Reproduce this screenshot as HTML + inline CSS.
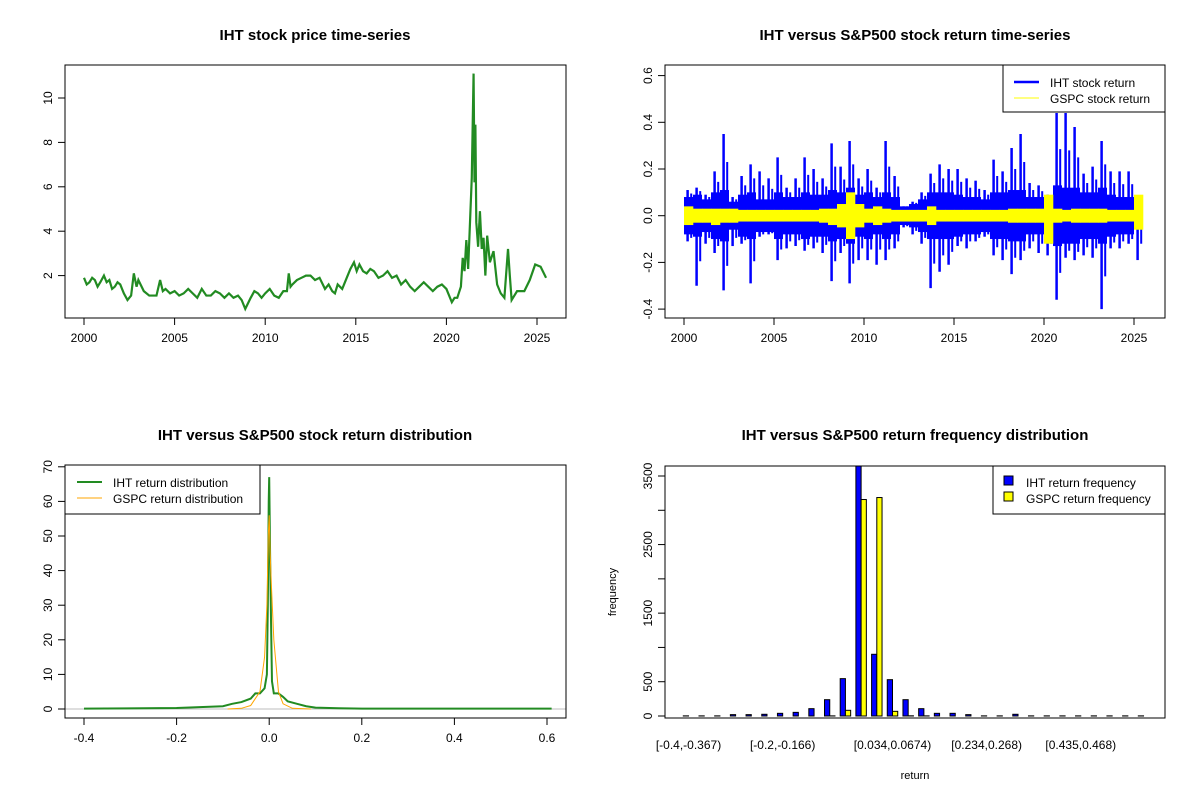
<!DOCTYPE html>
<html><head><meta charset="utf-8"><style>
body{margin:0;background:#fff}
svg{display:block;font-family:"Liberation Sans",Arial,sans-serif}
</style></head><body>
<svg id="c" width="1200" height="800" xmlns="http://www.w3.org/2000/svg"></svg>
<script>
// ---- Panel 1: price series ----
const priceYears=[2000.0,2000.15,2000.3,2000.45,2000.6,2000.75,2000.9,2001.1,2001.25,2001.4,2001.55,2001.7,2001.85,2002.0,2002.2,2002.4,2002.6,2002.75,2002.9,2003.0,2003.3,2003.6,2004.0,2004.2,2004.35,2004.5,2004.75,2005.0,2005.25,2005.5,2005.75,2006.0,2006.25,2006.5,2006.75,2007.0,2007.25,2007.5,2007.75,2008.0,2008.25,2008.5,2008.7,2008.9,2009.2,2009.4,2009.6,2009.8,2010.0,2010.25,2010.5,2010.75,2011.0,2011.2,2011.3,2011.4,2011.5,2011.75,2012.0,2012.25,2012.5,2012.75,2013.0,2013.3,2013.5,2013.7,2013.85,2014.0,2014.25,2014.5,2014.7,2014.9,2015.05,2015.2,2015.4,2015.6,2015.8,2016.0,2016.25,2016.5,2016.75,2017.0,2017.25,2017.5,2017.75,2018.0,2018.25,2018.5,2018.75,2019.0,2019.25,2019.5,2019.75,2020.0,2020.3,2020.45,2020.6,2020.8,2020.9,2021.0,2021.1,2021.2,2021.4,2021.5,2021.55,2021.6,2021.65,2021.75,2021.85,2021.95,2022.05,2022.15,2022.25,2022.4,2022.6,2022.8,2023.0,2023.2,2023.4,2023.5,2023.6,2023.9,2024.3,2024.6,2024.9,2025.2,2025.5];
const priceValues=[1.9,1.6,1.7,1.9,1.8,1.5,1.7,2.0,1.7,1.8,1.4,1.5,1.7,1.6,1.2,0.9,1.1,2.1,1.5,1.8,1.3,1.1,1.1,1.8,1.3,1.4,1.2,1.3,1.1,1.2,1.4,1.2,1.0,1.4,1.1,1.1,1.3,1.2,1.0,1.2,1.0,1.1,0.9,0.5,1.0,1.3,1.2,1.0,1.2,1.4,1.1,1.0,1.3,1.3,2.1,1.5,1.6,1.8,1.9,2.0,2.0,1.8,1.9,1.4,1.6,1.3,1.2,1.6,1.4,1.9,2.3,2.6,2.2,2.5,2.2,2.1,2.3,2.2,1.9,2.0,2.2,1.9,2.0,1.6,1.8,1.5,1.3,1.5,1.7,1.5,1.3,1.5,1.6,1.4,0.8,1.0,1.0,1.5,2.8,2.2,3.6,2.3,6.4,11.1,6.2,8.8,4.4,3.3,4.9,3.2,3.7,2.0,3.8,2.6,3.1,1.6,1.2,1.0,3.2,2.0,0.9,1.3,1.3,1.8,2.5,2.4,1.9];
const priceXTicks=[2000,2005,2010,2015,2020,2025];
const priceYTicks=[2,4,6,8,10];
// ---- Panel 2: returns (half-year buckets starting 2000.0) ----
const ihtHi=[0.11,0.12,0.09,0.19,0.35,0.08,0.17,0.22,0.19,0.16,0.25,0.12,0.16,0.25,0.2,0.16,0.31,0.21,0.32,0.16,0.2,0.12,0.32,0.17,0.04,0.06,0.1,0.18,0.22,0.2,0.2,0.16,0.15,0.11,0.24,0.19,0.29,0.35,0.14,0.13,0.09,0.44,0.44,0.38,0.18,0.21,0.32,0.19,0.19,0.19,0.06];
const ihtLo=[-0.11,-0.3,-0.12,-0.16,-0.32,-0.13,-0.12,-0.29,-0.09,-0.08,-0.19,-0.14,-0.13,-0.15,-0.14,-0.16,-0.28,-0.16,-0.29,-0.19,-0.19,-0.21,-0.19,-0.14,-0.05,-0.08,-0.12,-0.31,-0.24,-0.21,-0.13,-0.14,-0.11,-0.09,-0.17,-0.19,-0.25,-0.19,-0.14,-0.16,-0.17,-0.36,-0.18,-0.19,-0.17,-0.18,-0.4,-0.14,-0.14,-0.12,-0.19];
const ihtCore=[0.08,0.09,0.07,0.1,0.11,0.06,0.09,0.1,0.07,0.07,0.1,0.08,0.08,0.1,0.09,0.09,0.11,0.1,0.12,0.09,0.1,0.08,0.1,0.08,0.04,0.05,0.07,0.1,0.1,0.1,0.09,0.08,0.08,0.07,0.1,0.1,0.11,0.11,0.08,0.08,0.07,0.13,0.12,0.12,0.1,0.1,0.12,0.09,0.08,0.08,0.05];
const gspcHi=[0.04,0.03,0.03,0.03,0.03,0.03,0.025,0.025,0.025,0.025,0.025,0.025,0.025,0.025,0.025,0.03,0.03,0.05,0.1,0.05,0.03,0.04,0.03,0.025,0.025,0.025,0.025,0.04,0.025,0.025,0.025,0.025,0.025,0.025,0.025,0.025,0.03,0.03,0.03,0.03,0.09,0.03,0.025,0.03,0.03,0.03,0.03,0.025,0.025,0.025,0.09];
const gspcLo=[-0.04,-0.03,-0.03,-0.04,-0.03,-0.03,-0.025,-0.025,-0.025,-0.025,-0.025,-0.025,-0.025,-0.025,-0.025,-0.03,-0.04,-0.05,-0.1,-0.05,-0.03,-0.04,-0.03,-0.025,-0.025,-0.025,-0.025,-0.04,-0.025,-0.025,-0.025,-0.025,-0.025,-0.025,-0.025,-0.025,-0.03,-0.03,-0.03,-0.03,-0.12,-0.03,-0.025,-0.03,-0.03,-0.03,-0.03,-0.025,-0.025,-0.025,-0.06];
const retXTicks=[2000,2005,2010,2015,2020,2025];
const retYTicks=[-0.4,-0.2,0.0,0.2,0.4,0.6];
// ---- Panel 3: densities ----
const ihtDensX=[-0.4,-0.2,-0.1,-0.08,-0.06,-0.04,-0.03,-0.02,-0.01,-0.005,-0.003,-0.001,0,0.002,0.004,0.006,0.01,0.02,0.03,0.04,0.06,0.08,0.1,0.15,0.2,0.61];
const ihtDensY=[0.1,0.3,0.8,1.5,2,3,4.5,4.5,6,10,30,60,67,44,25,8,4.5,4.5,3.5,2.2,1.5,0.8,0.4,0.2,0.1,0.1];
const gspcDensX=[-0.09,-0.06,-0.04,-0.02,-0.01,-0.005,-0.002,0,0.002,0.005,0.01,0.02,0.03,0.05,0.09];
const gspcDensY=[0,0.2,1,5,15,30,50,56,45,35,20,5,1.5,0.2,0];
const densXTicks=[-0.4,-0.2,0.0,0.2,0.4,0.6];
const densYTicks=[0,10,20,30,40,50,60,70];
// ---- Panel 4: histogram (30 bins) ----
const binLabels=["[-0.4,-0.367)","[-0.2,-0.166)","[0.034,0.0674)","[0.234,0.268)","[0.435,0.468)"];
const binLabelIdx=[0,6,13,19,25];
const ihtFreq=[2,2,2,20,20,25,39,53,107,238,545,3700,900,530,238,107,39,39,20,2,2,25,2,2,2,2,2,2,2,2];
const gspcFreq=[0,0,0,0,0,0,0,0,0,2,83,3157,3186,68,3,2,0,0,0,0,0,0,0,0,0,0,0,0,0,0];
const freqYTicks=[0,500,1500,2500,3500];
const freqMinorTicks=[1000,2000,3000];

const NS="http://www.w3.org/2000/svg";
const svg=document.getElementById('c');
function mk(tag,attrs,parent){const e=document.createElementNS(NS,tag);for(const k in attrs)e.setAttribute(k,attrs[k]);(parent||svg).appendChild(e);return e;}
function txt(s,x,y,size,opts){const e=mk('text',Object.assign({x:x,y:y,'font-size':size,'text-anchor':'middle',fill:'#000'},opts||{}));e.textContent=s;return e;}
function fmt(v){return v.toFixed(1);}

// ===== Panel 1 =====
(function(){
 const L=65,R=566,T=65,B=318;
 const sx=v=>84+(v-2000)*(537-84)/25, sy=v=>320-v*22.2;
 let g=mk('g',{});
 let t=txt('IHT stock price time-series',315,40,15,{'font-weight':'bold'});
 let pts=priceYears.map((y,i)=>sx(y)+','+sy(priceValues[i])).join(' ');
 let pl=mk('polyline',{points:pts,fill:'none',stroke:'#228b22','stroke-width':2.2},g);
 let bx=mk('rect',{x:L,y:T,width:R-L,height:B-T,fill:'none',stroke:'#000'},g);
 mk('line',{x1:sx(2000),x2:sx(2025),y1:B,y2:B,stroke:'#000'},g);
 priceXTicks.forEach(v=>{mk('line',{x1:sx(v),x2:sx(v),y1:B,y2:B+7,stroke:'#000'},g);let e=txt(String(v),sx(v),B+24,12);});
 mk('line',{x1:L,x2:L,y1:sy(2),y2:sy(10),stroke:'#000'},g);
 priceYTicks.forEach(v=>{mk('line',{x1:L-7,x2:L,y1:sy(v),y2:sy(v),stroke:'#000'},g);let e=txt(String(v),0,0,12,{transform:`translate(${L-17},${sy(v)}) rotate(-90)`,dy:'4'});});
})();

// ===== Panel 2 =====
(function(){
 const L=665,R=1165,T=65,B=318;
 const sx=v=>684+(v-2000)*(1134-684)/25, sy=v=>215.7-v*233.5;
 let g=mk('g',{});
 let t=txt('IHT versus S&P500 stock return time-series',915,40,15,{'font-weight':'bold'});
 const w=sx(2000.5)-sx(2000);
 ihtHi.forEach((h,i)=>{
  const x0=sx(2000+i*0.5);
  let c=mk('rect',{x:x0,y:sy(ihtCore[i]),width:w,height:sy(-ihtCore[i])-sy(ihtCore[i]),fill:'#0000ff'},g);
  let s=mk('line',{x1:x0+w*0.4,x2:x0+w*0.4,y1:sy(h),y2:sy(ihtLo[i]),stroke:'#0000ff','stroke-width':2.5},g);
  let s2=mk('line',{x1:x0+w*0.8,x2:x0+w*0.8,y1:sy((h+ihtCore[i])/2),y2:sy((ihtLo[i]-ihtCore[i])/2),stroke:'#0000ff','stroke-width':2},g);
 });
 gspcHi.forEach((h,i)=>{
  const x0=sx(2000+i*0.5);
  let r=mk('rect',{x:x0,y:sy(h),width:w+0.3,height:sy(gspcLo[i])-sy(h),fill:'#ffff00'},g);
 });
 let bx=mk('rect',{x:L,y:T,width:R-L,height:B-T,fill:'none',stroke:'#000'},g);
 mk('line',{x1:sx(2000),x2:sx(2025),y1:B,y2:B,stroke:'#000'},g);
 retXTicks.forEach(v=>{mk('line',{x1:sx(v),x2:sx(v),y1:B,y2:B+7,stroke:'#000'},g);let e=txt(String(v),sx(v),B+24,12);});
 mk('line',{x1:L,x2:L,y1:sy(-0.4),y2:sy(0.6),stroke:'#000'},g);
 retYTicks.forEach(v=>{mk('line',{x1:L-7,x2:L,y1:sy(v),y2:sy(v),stroke:'#000'},g);let e=txt(fmt(v),0,0,12,{transform:`translate(${L-17},${sy(v)}) rotate(-90)`,dy:'4'});});
 let lg=mk('g',{},g);
 mk('rect',{x:1003,y:65,width:162,height:47,fill:'#fff',stroke:'#000'},lg);
 mk('line',{x1:1014,x2:1039,y1:82,y2:82,stroke:'#0000ff','stroke-width':2.5},lg);
 mk('line',{x1:1014,x2:1039,y1:98,y2:98,stroke:'#ffff00','stroke-width':1},lg);
 let a=txt('IHT stock return',1050,87,12,{'text-anchor':'start'});
 let b=txt('GSPC stock return',1050,103,12,{'text-anchor':'start'});
})();

// ===== Panel 3 =====
(function(){
 const L=65,R=566,T=465,B=718;
 const sx=v=>84+(v+0.4)*(547-84), sy=v=>709-v*3.46;
 let g=mk('g',{});
 let t=txt('IHT versus S&P500 stock return distribution',315,440,15,{'font-weight':'bold'});
 let base=mk('line',{x1:L,x2:R,y1:sy(0),y2:sy(0),stroke:'#bebebe'},g);
 let p1=mk('polyline',{points:ihtDensX.map((x,i)=>sx(x)+','+sy(ihtDensY[i])).join(' '),fill:'none',stroke:'#228b22','stroke-width':2},g);
 let p2=mk('polyline',{points:gspcDensX.map((x,i)=>sx(x)+','+sy(gspcDensY[i])).join(' '),fill:'none',stroke:'#ffa500','stroke-width':1},g);
 let bx=mk('rect',{x:L,y:T,width:R-L,height:B-T,fill:'none',stroke:'#000'},g);
 mk('line',{x1:sx(-0.4),x2:sx(0.6),y1:B,y2:B,stroke:'#000'},g);
 densXTicks.forEach(v=>{mk('line',{x1:sx(v),x2:sx(v),y1:B,y2:B+7,stroke:'#000'},g);let e=txt(fmt(v),sx(v),B+24,12);});
 mk('line',{x1:L,x2:L,y1:sy(0),y2:sy(70),stroke:'#000'},g);
 densYTicks.forEach(v=>{mk('line',{x1:L-7,x2:L,y1:sy(v),y2:sy(v),stroke:'#000'},g);let e=txt(String(v),0,0,12,{transform:`translate(${L-17},${sy(v)}) rotate(-90)`,dy:'4'});});
 let lg=mk('g',{},g);
 mk('rect',{x:65,y:465,width:195,height:49,fill:'#fff',stroke:'#000'},lg);
 mk('line',{x1:77,x2:102,y1:482,y2:482,stroke:'#228b22','stroke-width':2},lg);
 mk('line',{x1:77,x2:102,y1:498,y2:498,stroke:'#ffa500','stroke-width':1},lg);
 let a=txt('IHT return distribution',113,487,12,{'text-anchor':'start'});
 let b=txt('GSPC return distribution',113,503,12,{'text-anchor':'start'});
})();

// ===== Panel 4 =====
(function(){
 const L=665,R=1165,T=466,B=718;
 const u=5.23, x0=683.3-u; // one bar unit, group = 3 units (space 1 + 2 bars)
 const sy=v=>716-v*(716-476)/3500;
 let g=mk('g',{});
 let t=txt('IHT versus S&P500 return frequency distribution',915,440,15,{'font-weight':'bold'});
 let cp=mk('clipPath',{id:'hc'});mk('rect',{x:L,y:T,width:R-L,height:B-T},cp);
 let bars=mk('g',{'clip-path':'url(#hc)'},g);
 ihtFreq.forEach((v,i)=>{
  const bxp=x0+(i*3+1)*u;
  let r=mk('rect',{x:bxp,y:sy(v),width:u,height:sy(0)-sy(v),fill:'#0000ff',stroke:'#000','stroke-width':1},bars);
  const gv=gspcFreq[i];
  let r2=mk('rect',{x:bxp+u,y:sy(gv),width:u,height:sy(0)-sy(gv),fill:'#ffff00',stroke:'#000','stroke-width':1},bars);
 });
 let bx=mk('rect',{x:L,y:T,width:R-L,height:B-T,fill:'none',stroke:'#000'},g);
 binLabels.forEach((s,k)=>{const i=binLabelIdx[k];let e=txt(s,x0+(i*3+2)*u,749,12);});
 mk('line',{x1:L,x2:L,y1:sy(0),y2:sy(3500),stroke:'#000'},g);
 freqMinorTicks.forEach(v=>mk('line',{x1:L-7,x2:L,y1:sy(v),y2:sy(v),stroke:'#000'},g));
 freqYTicks.forEach(v=>{mk('line',{x1:L-7,x2:L,y1:sy(v),y2:sy(v),stroke:'#000'},g);let e=txt(String(v),0,0,12,{transform:`translate(${L-17},${sy(v)}) rotate(-90)`,dy:'4'});});
 let yl=txt('frequency',0,0,11,{transform:'translate(616,592) rotate(-90)'});
 let xl=txt('return',915,779,11);
 let lg=mk('g',{},g);
 mk('rect',{x:993,y:466,width:172,height:48,fill:'#fff',stroke:'#000'},lg);
 mk('rect',{x:1004,y:476,width:9,height:9,fill:'#0000ff',stroke:'#000'},lg);
 mk('rect',{x:1004,y:492,width:9,height:9,fill:'#ffff00',stroke:'#000'},lg);
 let a=txt('IHT return frequency',1026,487,12,{'text-anchor':'start'});
 let b=txt('GSPC return frequency',1026,503,12,{'text-anchor':'start'});
})();
</script>
</body></html>
